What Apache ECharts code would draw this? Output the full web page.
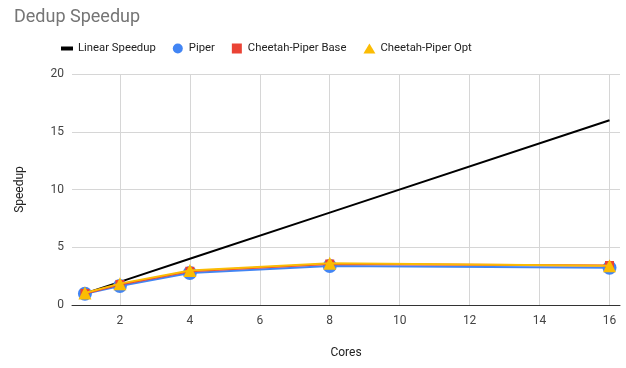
<!DOCTYPE html>
<html>
<head>
<meta charset="utf-8">
<script src="https://cdn.jsdelivr.net/npm/echarts@6/dist/echarts.min.js"></script>
<style>
  html, body { margin: 0; padding: 0; background: #fff; }
  #chart { width: 626px; height: 368px; }
</style>
</head>
<body>
<div id="chart"></div>
<script>
// Core counts and measured speedups
const cores = [1, 2, 4, 8, 16];
const linearSpeedup = [1, 2, 4, 8, 16];
const piper = [0.97, 1.65, 2.77, 3.38, 3.23];
const cheetahBase = [1.0, 1.78, 2.92, 3.55, 3.42];
const cheetahOpt = [1.04, 1.85, 2.98, 3.62, 3.40];
const xTicks = [2, 4, 6, 8, 10, 12, 14, 16];

const pairs = (ys) => cores.map((c, i) => [c, ys[i]]);

const chart = echarts.init(document.getElementById('chart'));
const font = 'Roboto, Arial, sans-serif';

chart.setOption({
  animation: false,
  title: {
    text: 'Dedup Speedup',
    left: 9, top: 3,
    textStyle: { fontFamily: font, fontSize: 18, fontWeight: 'normal', color: '#757575' }
  },
  legend: {
    top: 38, left: 56,
    itemGap: 17, itemWidth: 12, itemHeight: 10,
    textStyle: { fontFamily: font, fontSize: 11.3, color: '#222' },
    data: [
      { name: 'Linear Speedup', icon: 'path://M0,3L12,3L12,7L0,7Z', itemStyle: { color: '#000' } },
      { name: 'Piper', icon: 'circle' },
      { name: 'Cheetah-Piper Base', icon: 'path://M2,1L10,1L10,9L2,9Z' },
      { name: 'Cheetah-Piper Opt', icon: 'triangle' }
    ]
  },
  grid: { left: 72, right: 6, top: 74, bottom: 63 },
  xAxis: {
    type: 'value', min: 0.63, max: 16.3,
    name: 'Cores', nameLocation: 'middle', nameGap: 42,
    nameTextStyle: { fontFamily: font, fontSize: 12, color: '#222' },
    axisLine: { show: true, lineStyle: { color: '#333', width: 1 } },
    axisTick: { show: false, customValues: xTicks },
    axisLabel: { customValues: xTicks, fontFamily: font, fontSize: 12, color: '#444', margin: 10 },
    splitLine: { show: true, lineStyle: { color: '#d6d6d6' } }
  },
  yAxis: {
    type: 'value', min: 0, max: 20, interval: 5,
    name: 'Speedup', nameLocation: 'middle', nameGap: 46,
    nameTextStyle: { fontFamily: font, fontSize: 12, color: '#222' },
    axisLine: { show: false }, axisTick: { show: false },
    axisLabel: { fontFamily: font, fontSize: 12, color: '#444', margin: 8 },
    splitLine: { lineStyle: { color: '#d6d6d6' } }
  },
  series: [
    {
      name: 'Linear Speedup', type: 'line', data: pairs(linearSpeedup),
      showSymbol: false, symbol: 'none',
      lineStyle: { color: '#000', width: 2 }, itemStyle: { color: '#000' }, z: 2
    },
    {
      name: 'Piper', type: 'line', data: pairs(piper),
      symbol: 'circle', symbolSize: 14,
      lineStyle: { color: '#4285F4', width: 2 }, itemStyle: { color: '#4285F4' }, z: 3
    },
    {
      name: 'Cheetah-Piper Base', type: 'line', data: pairs(cheetahBase),
      symbol: 'rect', symbolSize: 9,
      lineStyle: { color: '#EA4335', width: 2 }, itemStyle: { color: '#EA4335' }, z: 4
    },
    {
      name: 'Cheetah-Piper Opt', type: 'line', data: pairs(cheetahOpt),
      symbol: 'triangle', symbolSize: 13,
      lineStyle: { color: '#FBBC04', width: 2 }, itemStyle: { color: '#FBBC04' }, z: 5
    }
  ]
});
</script>
</body>
</html>
